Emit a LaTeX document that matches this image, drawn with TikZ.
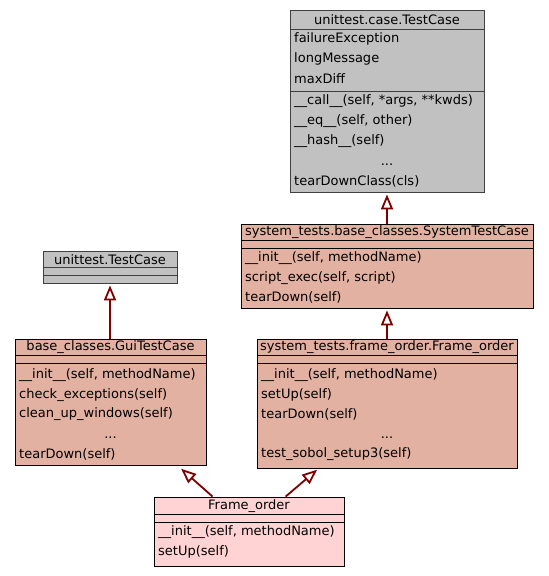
\documentclass[tikz,border=0pt]{standalone}
\usepackage{fontspec}
\setmainfont{DejaVu Sans}
\usetikzlibrary{arrows.meta,calc}
\definecolor{grayfill}{HTML}{C2C1C2}
\definecolor{salmon}{HTML}{E3B1A2}
\definecolor{pinkfill}{HTML}{FFD3D3}
\definecolor{edgered}{HTML}{800000}
\definecolor{greyborder}{HTML}{404040}
\tikzset{
  cls/.style={draw=black, line width=0.8pt, inner sep=0pt},
  sep/.style={draw=black, line width=0.8pt},
  txt/.style={anchor=west, inner sep=0pt, font=\fontsize{13}{15}\selectfont},
  ttl/.style={inner sep=0pt, font=\fontsize{13}{15}\selectfont},
  inh/.style={draw=edgered, line width=1.8pt, -{Triangle[open, length=15pt, width=12pt, line width=1.8pt]}, shorten >=2pt}
}
\begin{document}
\begin{tikzpicture}[x=1pt,y=-1pt]
\useasboundingbox (0,0) rectangle (549,576);
% Box 1 unittest.case.TestCase
\node[cls, draw=greyborder, fill=grayfill, minimum width=194pt, minimum height=182pt] (b1) at (387,101) {};
\draw[sep,greyborder] (290,29) -- (484,29);
\draw[sep,greyborder] (290,91) -- (484,91);
\node[ttl] (b1t) at (387,20) {unittest.case.TestCase};
\node[txt] (b1a1) at (294,39) {failureException};
\node[txt] (b1a2) at (294,59) {longMessage};
\node[txt] (b1a3) at (294,79) {maxDiff};
\node[txt] (b1m1) at (294,101.5) {\_\_call\_\_(self, *args, **kwds)};
\node[txt] (b1m2) at (294,121.5) {\_\_eq\_\_(self, other)};
\node[txt] (b1m3) at (294,141.5) {\_\_hash\_\_(self)};
\node[ttl] (b1m4) at (387,165) {...};
\node[txt] (b1m5) at (294,181.5) {tearDownClass(cls)};
% Box 2 SystemTestCase
\node[cls, fill=salmon, minimum width=292pt, minimum height=84pt] (b2) at (387,266) {};
\draw[sep] (241,240) -- (533,240);
\draw[sep] (241,248) -- (533,248);
\node[ttl] (b2t) at (387,232) {system\_tests.base\_classes.SystemTestCase};
\node[txt] (b2m1) at (245,258.5) {\_\_init\_\_(self, methodName)};
\node[txt] (b2m2) at (245,278.5) {script\_exec(self, script)};
\node[txt] (b2m3) at (245,297.5) {tearDown(self)};
% Box 4 unittest.TestCase
\node[cls, draw=greyborder, fill=grayfill, minimum width=134pt, minimum height=32pt] (b4) at (110,267) {};
\draw[sep,greyborder] (43,267) -- (177,267);
\draw[sep,greyborder] (43,275) -- (177,275);
\node[ttl] (b4t) at (110,259.5) {unittest.TestCase};
% Box 5 GuiTestCase
\node[cls, fill=salmon, minimum width=191pt, minimum height=126pt] (b5) at (110.5,402) {};
\draw[sep] (15,355) -- (206,355);
\draw[sep] (15,363) -- (206,363);
\node[ttl] (b5t) at (110.5,347.5) {base\_classes.GuiTestCase};
\node[txt] (b5m1) at (19,375.5) {\_\_init\_\_(self, methodName)};
\node[txt] (b5m2) at (19,395) {check\_exceptions(self)};
\node[txt] (b5m3) at (19,414.5) {clean\_up\_windows(self)};
\node[ttl] (b5m4) at (110.5,437.5) {...};
\node[txt] (b5m5) at (19,454.5) {tearDown(self)};
% Box 3 system_tests Frame_order
\node[cls, fill=salmon, minimum width=260pt, minimum height=129pt] (b3) at (387,403.5) {};
\draw[sep] (257,355) -- (517,355);
\draw[sep] (257,363) -- (517,363);
\node[ttl] (b3t) at (387,347.5) {system\_tests.frame\_order.Frame\_order};
\node[txt] (b3m1) at (261,375.5) {\_\_init\_\_(self, methodName)};
\node[txt] (b3m2) at (261,395) {setUp(self)};
\node[txt] (b3m3) at (261,414.5) {tearDown(self)};
\node[ttl] (b3m4) at (387,437.5) {...};
\node[txt] (b3m5) at (261,454.5) {test\_sobol\_setup3(self)};
% Box 6 Frame_order
\node[cls, fill=pinkfill, minimum width=190pt, minimum height=69pt] (b6) at (249,531.5) {};
\draw[sep] (154,514) -- (344,514);
\draw[sep] (154,522) -- (344,522);
\node[ttl] (b6t) at (249,506) {Frame\_order};
\node[txt] (b6m1) at (158,532.5) {\_\_init\_\_(self, methodName)};
\node[txt] (b6m2) at (158,551.5) {setUp(self)};
% connectors
\coordinate (c6a) at ($(b6.north west)+(59,0)$);
\coordinate (c6b) at ($(b6.north west)+(132,0)$);
\coordinate (c5) at ($(b5.south west)+(165,2)$);
\coordinate (c3) at ($(b3.south west)+(62,0)$);
\draw[inh] (b2.north) -- (b1.south);
\draw[inh] (b3.north) -- (b2.south);
\draw[inh] (b5.north -| b4.south) -- (b4.south);
\draw[inh] (c6a) -- (c5);
\draw[inh] (c6b) -- (c3);
\end{tikzpicture}
\end{document}
